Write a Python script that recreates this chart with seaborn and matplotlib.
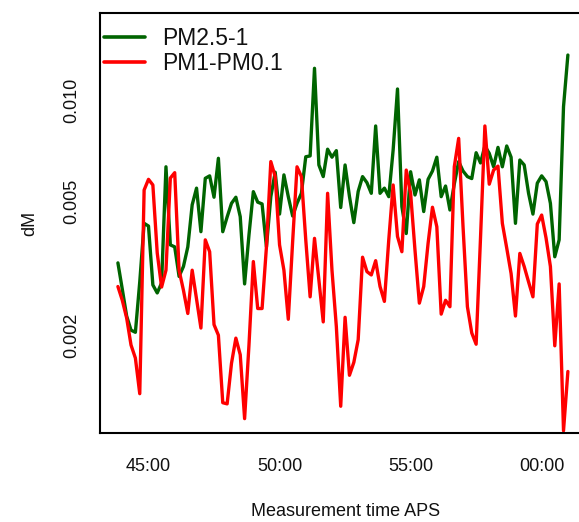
import numpy as np
import pandas as pd
import matplotlib
matplotlib.use("Agg")
import matplotlib.pyplot as plt
import matplotlib.dates as mdates
from matplotlib.ticker import FixedLocator, FixedFormatter, NullLocator
import seaborn as sns

# ---- data (10 s sampling, 43:50 -> 01:00) ----
start_time = "2000-01-01 12:43:50"
n_points = 104
step = "10s"

pm25_1 = [
    0.00328, 0.00274, 0.00228, 0.00207, 0.00204, 0.00288, 0.00430, 0.00422,
    0.00282, 0.00267, 0.00286, 0.00633, 0.00371, 0.00366, 0.00299, 0.00320,
    0.00366, 0.00488, 0.00547, 0.00406, 0.00585, 0.00595, 0.00514, 0.00671,
    0.00406, 0.00449, 0.00493, 0.00514, 0.00450, 0.00284, 0.00397, 0.00534,
    0.00497, 0.00491, 0.00366, 0.00516, 0.00610, 0.00458, 0.00599, 0.00516,
    0.00452, 0.00493, 0.00528, 0.00678, 0.00682, 0.01242, 0.00641, 0.00592,
    0.00714, 0.00676, 0.00707, 0.00479, 0.00641, 0.00517, 0.00432, 0.00535,
    0.00592, 0.00568, 0.00528, 0.00837, 0.00528, 0.00547, 0.00516, 0.00710,
    0.01078, 0.00482, 0.00401, 0.00612, 0.00522, 0.00579, 0.00466, 0.00581,
    0.00615, 0.00676, 0.00516, 0.00555, 0.00471, 0.00563, 0.00656, 0.00615,
    0.00592, 0.00584, 0.00697, 0.00650, 0.00730, 0.00694, 0.00633, 0.00723,
    0.00633, 0.00730, 0.00676, 0.00430, 0.00663, 0.00641, 0.00528, 0.00458,
    0.00566, 0.00595, 0.00572, 0.00493, 0.00342, 0.00384, 0.00955, 0.01360,
]

pm1_pm01 = [
    0.00279, 0.00254, 0.00225, 0.00187, 0.00171, 0.00134, 0.00540, 0.00581,
    0.00559, 0.00351, 0.00278, 0.00312, 0.00586, 0.00608, 0.00312, 0.00272,
    0.00232, 0.00312, 0.00256, 0.00210, 0.00384, 0.00354, 0.00215, 0.00200,
    0.00126, 0.00125, 0.00165, 0.00196, 0.00175, 0.00113, 0.00187, 0.00331,
    0.00240, 0.00240, 0.00366, 0.00656, 0.00592, 0.00371, 0.00312, 0.00223,
    0.00380, 0.00633, 0.00592, 0.00384, 0.00260, 0.00388, 0.00292, 0.00219,
    0.00528, 0.00312, 0.00212, 0.00123, 0.00226, 0.00152, 0.00166, 0.00194,
    0.00341, 0.00309, 0.00302, 0.00333, 0.00279, 0.00252, 0.00384, 0.00559,
    0.00393, 0.00354, 0.00619, 0.00528, 0.00358, 0.00249, 0.00279, 0.00375,
    0.00480, 0.00420, 0.00231, 0.00254, 0.00243, 0.00633, 0.00769, 0.00420,
    0.00243, 0.00203, 0.00188, 0.00389, 0.00837, 0.00562, 0.00619, 0.00636,
    0.00430, 0.00363, 0.00305, 0.00228, 0.00350, 0.00320, 0.00288, 0.00260,
    0.00428, 0.00455, 0.00389, 0.00320, 0.00186, 0.00284, 0.00104, 0.00156,
]

series_names = ["PM2.5-1", "PM1-PM0.1"]
series_colors = ["#006400", "#ff0000"]

x_ticks = ["2000-01-01 12:45:00", "2000-01-01 12:50:00",
           "2000-01-01 12:55:00", "2000-01-01 13:00:00"]
x_tick_labels = ["45:00", "50:00", "55:00", "00:00"]
y_ticks = [0.002, 0.005, 0.010]
y_tick_labels = ["0.002", "0.005", "0.010"]
x_limits = ["2000-01-01 12:43:09", "2000-01-01 13:01:52"]
y_limits = [0.001022, 0.01817]

# ---- build long table ----
times = pd.date_range(start_time, periods=n_points, freq=step)
df = pd.concat([
    pd.DataFrame({"time": times, "dM": pm25_1, "series": series_names[0]}),
    pd.DataFrame({"time": times, "dM": pm1_pm01, "series": series_names[1]}),
], ignore_index=True)

sns.set_theme(style="white")
plt.rcParams["font.family"] = ["Liberation Sans", "DejaVu Sans"]

W, H = 579, 522
fig = plt.figure(figsize=(W / 100, H / 100), dpi=100)
left, right, top, bottom = 100, 590.6, 12.7, 433.3
ax = fig.add_axes([left / W, 1 - bottom / H, (right - left) / W, (bottom - top) / H])

sns.lineplot(data=df, x="time", y="dM", hue="series",
             palette=dict(zip(series_names, series_colors)),
             hue_order=series_names, linewidth=2.4, ax=ax, estimator=None)

ax.set_yscale("log")
ax.set_ylim(*y_limits)
ax.set_xlim(pd.to_datetime(x_limits[0]), pd.to_datetime(x_limits[1]))

ax.xaxis.set_major_locator(FixedLocator(mdates.date2num(pd.to_datetime(x_ticks))))
ax.xaxis.set_major_formatter(FixedFormatter(x_tick_labels))
ax.xaxis.set_minor_locator(NullLocator())
ax.yaxis.set_major_locator(FixedLocator(y_ticks))
ax.yaxis.set_major_formatter(FixedFormatter(y_tick_labels))
ax.yaxis.set_minor_locator(NullLocator())

for s in ["left", "top", "bottom"]:
    ax.spines[s].set_visible(True)
    ax.spines[s].set_color("black")
    ax.spines[s].set_linewidth(1.5)
ax.spines["right"].set_visible(False)

ax.tick_params(axis="both", direction="out", length=8, width=1.3,
               color="black", labelsize=13, labelcolor="#111111")
ax.tick_params(axis="x", pad=10)
ax.tick_params(axis="y", pad=6)
for lab in ax.get_yticklabels():
    lab.set_rotation(90)
    lab.set_va("center")

ax.set_xlabel("Measurement time APS", fontsize=13, labelpad=20, color="#111111")
ax.set_ylabel("dM", fontsize=13, labelpad=18, color="#111111")

leg = ax.legend(loc="upper left", bbox_to_anchor=(-0.006, 0.982), frameon=False,
                fontsize=16.5, handlelength=1.8, handletextpad=0.75,
                labelspacing=0.1, borderpad=0.1, borderaxespad=0.2)
for line in leg.get_lines():
    line.set_linewidth(2.6)
for t in leg.get_texts():
    t.set_color("#111111")

fig.savefig("out.png", dpi=100)
